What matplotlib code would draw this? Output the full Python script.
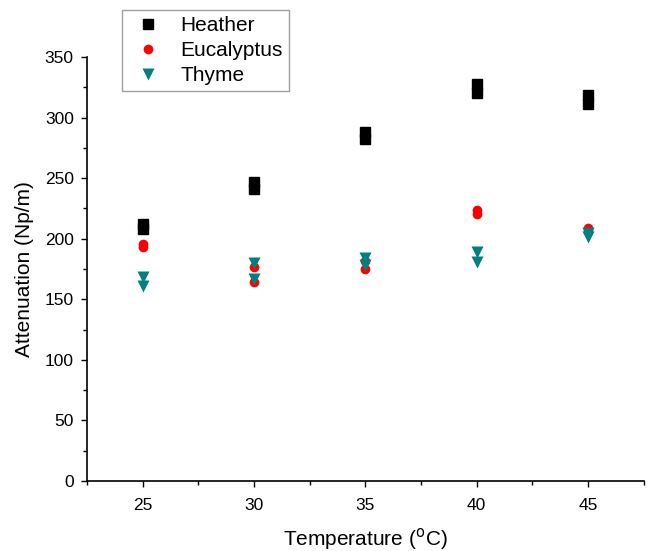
import numpy as np
import matplotlib.pyplot as plt
from matplotlib.ticker import MultipleLocator

plt.rcParams['font.family'] = ['Liberation Sans', 'DejaVu Sans']

# two repeat measurements per temperature
temperature = [25, 25, 30, 30, 35, 35, 40, 40, 45, 45]
heather = [212, 208, 247, 241, 288, 282, 328, 320, 319, 311]
eucalyptus = [196, 193, 177, 164, 182, 175, 224, 220, 209, 207]
thyme = [168, 161, 180, 167, 184, 178, 189, 181, 205, 201]

fig = plt.figure(figsize=(6.51, 5.51), dpi=100)
ax = fig.add_axes([0.1336, 0.127, 0.855, 0.7696])

ax.plot(temperature, heather, 's', color='black', ms=6.5, label='Heather')
ax.plot(temperature, eucalyptus, 'o', color='red', ms=7, mec='none', label='Eucalyptus')
ax.plot(temperature, thyme, 'v', color='#008080', ms=9, mec='none', label='Thyme')

ax.set_xlim(22.5, 47.5)
ax.set_ylim(0, 350)
ax.xaxis.set_major_locator(MultipleLocator(5))
ax.xaxis.set_minor_locator(MultipleLocator(2.5))
ax.yaxis.set_major_locator(MultipleLocator(50))
ax.yaxis.set_minor_locator(MultipleLocator(25))
ax.tick_params(which='major', direction='out', length=4.5, width=1, labelsize=12.5)
ax.tick_params(axis='x', which='major', pad=8)
ax.tick_params(axis='y', which='major', pad=5)
ax.tick_params(which='minor', direction='out', length=3, width=1)
for side in ['top', 'right']:
    ax.spines[side].set_visible(False)
for side in ['left', 'bottom']:
    ax.spines[side].set_linewidth(1.2)

ax.set_xlabel('Temperature ($^{\\mathrm{o}}$C)', fontsize=15, labelpad=9)
ax.set_ylabel('Attenuation (Np/m)', fontsize=15, labelpad=8)

leg = ax.legend(loc='upper left', bbox_to_anchor=(0.063, 1.111), fontsize=15,
                frameon=True, fancybox=False, edgecolor='#888888',
                handletextpad=0.65, borderpad=0.3, labelspacing=0.28,
                handlelength=1.85, borderaxespad=0)
leg.get_frame().set_linewidth(1.0)
ax.patch.set_alpha(0)

fig.savefig('out.png', dpi=100)
